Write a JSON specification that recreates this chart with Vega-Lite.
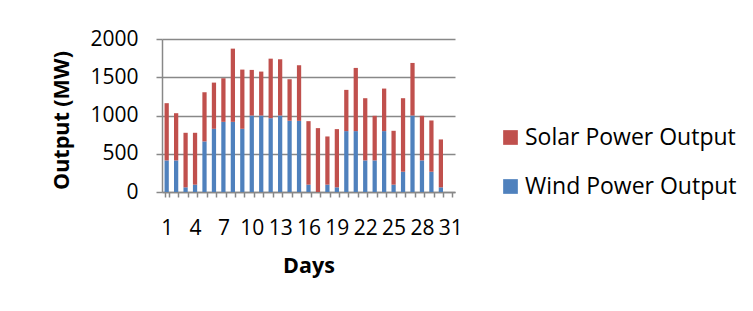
{
  "$schema": "https://vega.github.io/schema/vega-lite/v6.json",
  "width": 293,
  "height": 153,
  "autosize": "none",
  "padding": {"left": 162, "top": 39, "right": 298, "bottom": 119},
  "background": "white",
  "data": {
    "values": [
      {"day": 1, "series": "Wind Power Output", "value": 413}, {"day": 1, "series": "Solar Power Output", "value": 748},
      {"day": 2, "series": "Wind Power Output", "value": 413}, {"day": 2, "series": "Solar Power Output", "value": 617},
      {"day": 3, "series": "Wind Power Output", "value": 61}, {"day": 3, "series": "Solar Power Output", "value": 713},
      {"day": 4, "series": "Wind Power Output", "value": 96}, {"day": 4, "series": "Solar Power Output", "value": 678},
      {"day": 5, "series": "Wind Power Output", "value": 661}, {"day": 5, "series": "Solar Power Output", "value": 643},
      {"day": 6, "series": "Wind Power Output", "value": 826}, {"day": 6, "series": "Solar Power Output", "value": 604},
      {"day": 7, "series": "Wind Power Output", "value": 917}, {"day": 7, "series": "Solar Power Output", "value": 570},
      {"day": 8, "series": "Wind Power Output", "value": 917}, {"day": 8, "series": "Solar Power Output", "value": 957},
      {"day": 9, "series": "Wind Power Output", "value": 826}, {"day": 9, "series": "Solar Power Output", "value": 774},
      {"day": 10, "series": "Wind Power Output", "value": 1000}, {"day": 10, "series": "Solar Power Output", "value": 596},
      {"day": 11, "series": "Wind Power Output", "value": 1000}, {"day": 11, "series": "Solar Power Output", "value": 574},
      {"day": 12, "series": "Wind Power Output", "value": 965}, {"day": 12, "series": "Solar Power Output", "value": 778},
      {"day": 13, "series": "Wind Power Output", "value": 1000}, {"day": 13, "series": "Solar Power Output", "value": 735},
      {"day": 14, "series": "Wind Power Output", "value": 930}, {"day": 14, "series": "Solar Power Output", "value": 544},
      {"day": 15, "series": "Wind Power Output", "value": 930}, {"day": 15, "series": "Solar Power Output", "value": 727},
      {"day": 16, "series": "Wind Power Output", "value": 96}, {"day": 16, "series": "Solar Power Output", "value": 830},
      {"day": 17, "series": "Wind Power Output", "value": 0}, {"day": 17, "series": "Solar Power Output", "value": 835},
      {"day": 18, "series": "Wind Power Output", "value": 96}, {"day": 18, "series": "Solar Power Output", "value": 630},
      {"day": 19, "series": "Wind Power Output", "value": 61}, {"day": 19, "series": "Solar Power Output", "value": 761},
      {"day": 20, "series": "Wind Power Output", "value": 796}, {"day": 20, "series": "Solar Power Output", "value": 539},
      {"day": 21, "series": "Wind Power Output", "value": 796}, {"day": 21, "series": "Solar Power Output", "value": 826},
      {"day": 22, "series": "Wind Power Output", "value": 413}, {"day": 22, "series": "Solar Power Output", "value": 813},
      {"day": 23, "series": "Wind Power Output", "value": 413}, {"day": 23, "series": "Solar Power Output", "value": 583},
      {"day": 24, "series": "Wind Power Output", "value": 796}, {"day": 24, "series": "Solar Power Output", "value": 556},
      {"day": 25, "series": "Wind Power Output", "value": 96}, {"day": 25, "series": "Solar Power Output", "value": 704},
      {"day": 26, "series": "Wind Power Output", "value": 265}, {"day": 26, "series": "Solar Power Output", "value": 961},
      {"day": 27, "series": "Wind Power Output", "value": 1000}, {"day": 27, "series": "Solar Power Output", "value": 687},
      {"day": 28, "series": "Wind Power Output", "value": 413}, {"day": 28, "series": "Solar Power Output", "value": 583},
      {"day": 29, "series": "Wind Power Output", "value": 265}, {"day": 29, "series": "Solar Power Output", "value": 670},
      {"day": 30, "series": "Wind Power Output", "value": 61}, {"day": 30, "series": "Solar Power Output", "value": 626}
    ]
  },
  "mark": {"type": "bar"},
  "encoding": {
    "x": {
      "field": "day",
      "type": "ordinal",
      "title": "Days",
      "scale": {
        "domain": [1,2,3,4,5,6,7,8,9,10,11,12,13,14,15,16,17,18,19,20,21,22,23,24,25,26,27,28,29,30,31],
        "paddingInner": 0.55,
        "paddingOuter": 0.27
      },
      "axis": {
        "labelAngle": 0,
        "labelOverlap": false,
        "labelExpr": "(datum.value - 1) % 3 == 0 ? datum.label : ''",
        "tickBand": "extent",
        "tickSize": 5,
        "tickColor": "#888888",
        "tickWidth": 1.5,
        "domainColor": "#888888",
        "domainWidth": 1.5,
        "labelPadding": 20,
        "titlePadding": 17
      }
    },
    "y": {
      "aggregate": "sum",
      "field": "value",
      "type": "quantitative",
      "stack": "zero",
      "title": "Output (MW)",
      "scale": {"domain": [0, 2000], "nice": false},
      "axis": {
        "values": [0, 500, 1000, 1500, 2000],
        "format": "d",
        "grid": true,
        "gridColor": "#888888",
        "gridWidth": 1.5,
        "tickSize": 6,
        "tickColor": "#888888",
        "tickWidth": 1.5,
        "domainColor": "#888888",
        "domainWidth": 1.5,
        "labelPadding": 18,
        "titlePadding": 16,
        "titleY": 81
      }
    },
    "color": {
      "field": "series",
      "type": "nominal",
      "scale": {
        "domain": ["Solar Power Output", "Wind Power Output"],
        "range": ["#C0504D", "#4F81BD"]
      },
      "legend": {
        "title": null,
        "orient": "none",
        "legendX": 337,
        "legendY": 87,
        "symbolType": "square",
        "symbolSize": 216,
        "symbolStrokeWidth": 0,
        "rowPadding": 25,
        "labelOffset": 3
      }
    },
    "order": {"field": "series", "sort": "descending"}
  },
  "config": {
    "view": {"stroke": null},
    "font": "Open Sans",
    "axis": {
      "labelFont": "Open Sans",
      "labelFontSize": 21,
      "labelColor": "#000000",
      "titleFont": "Open Sans",
      "titleFontSize": 21.5,
      "titleFontWeight": "bold",
      "titleColor": "#000000"
    },
    "legend": {
      "labelFont": "Open Sans",
      "labelFontSize": 23,
      "labelColor": "#000000",
      "labelLimit": 400
    }
  }
}
